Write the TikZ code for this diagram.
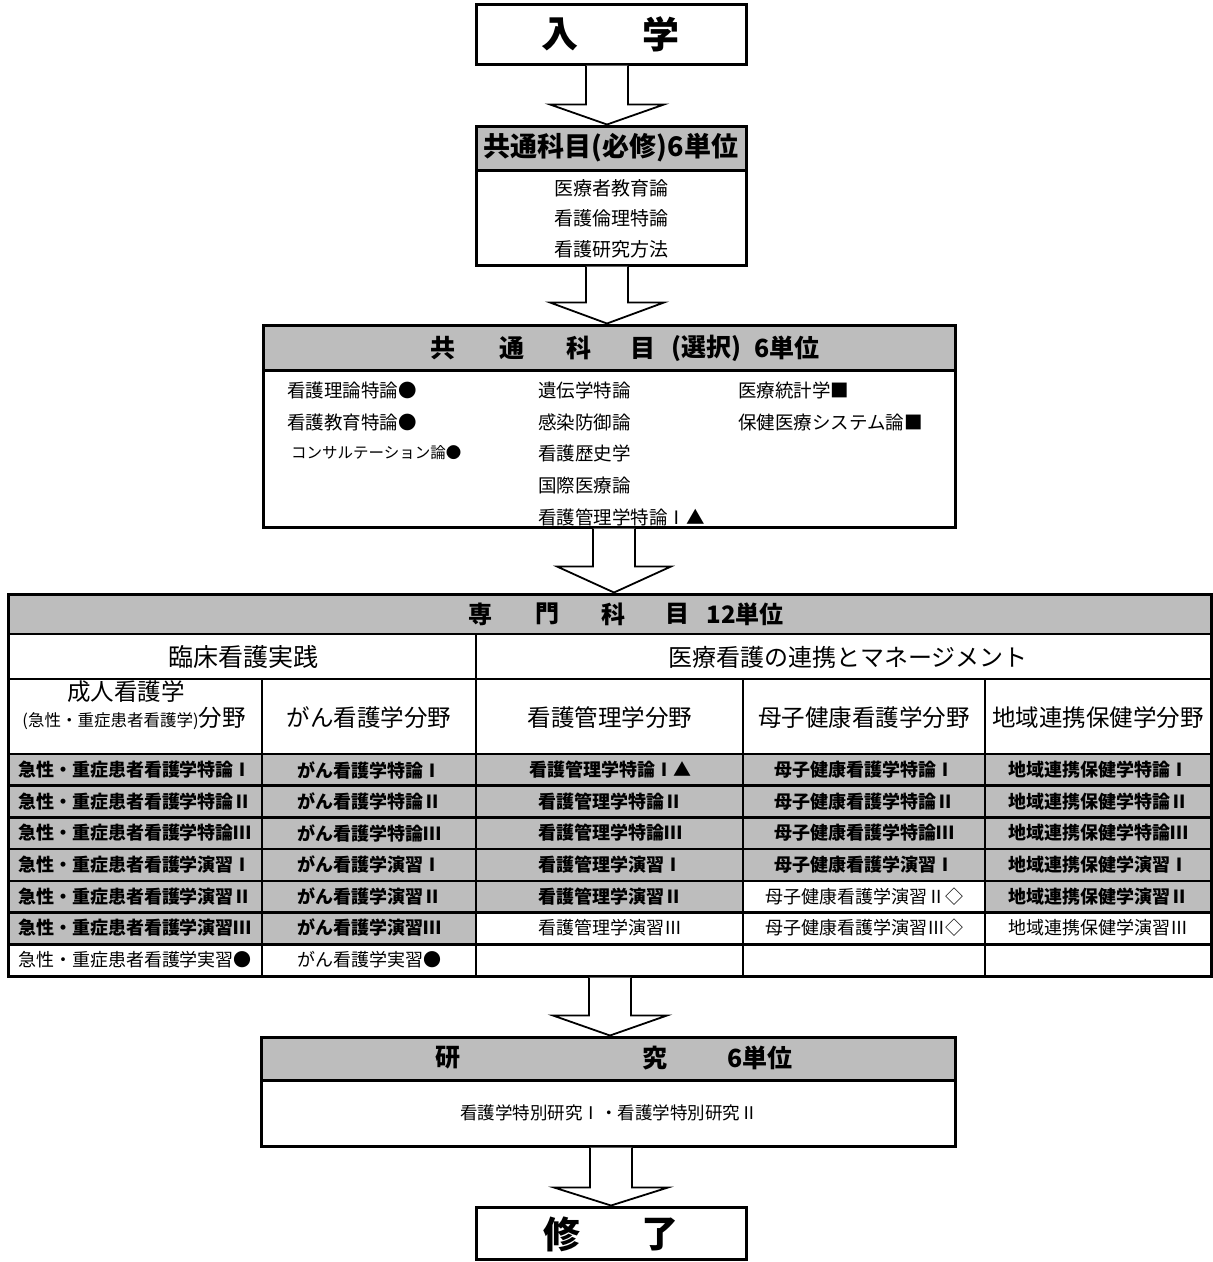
\documentclass[tikz,border=0pt]{standalone}
\usepackage{fontspec}
\setmainfont{Noto Sans CJK JP}
\usetikzlibrary{calc}
\definecolor{shadegray}{gray}{0.74}
\newcommand\fsz[1]{\fontsize{#1}{#1}\selectfont}
\newcommand\rI{\makebox[1em]{Ⅰ}}
\newcommand\rII{\makebox[1em]{Ⅱ}}
\newcommand\rIII{\makebox[1em]{Ⅲ}}
\newcommand\blockarrow[4]{%
  \draw[arrowline] let \p1=(#1.south), \p2=(#2.north) in
   ({#3pt-21pt},\y1) -- ({#3pt-21pt},{\y2+#4pt}) -- ({#3pt-57pt},{\y2+#4pt}) -- ({#3pt},\y2)
   -- ({#3pt+57pt},{\y2+#4pt}) -- ({#3pt+21pt},{\y2+#4pt}) -- ({#3pt+21pt},\y1);}
\begin{document}
\begin{tikzpicture}[x=1pt,y=-1pt,
  frame/.style={draw, line width=3pt, inner sep=0pt},
  sep/.style={line width=3pt},
  gridline/.style={line width=2.6pt},
  arrowline/.style={draw, line width=1.8pt, fill=white, line join=miter},
  bigt/.style={inner sep=0pt, font=\fsz{37}\bfseries},
  headt/.style={inner sep=0pt, font=\fsz{25}\bfseries},
  item/.style={inner sep=0pt, font=\fsz{18.5}},
  coltitle/.style={inner sep=0pt, font=\fsz{23.5}},
  whcell/.style={inner sep=0pt, font=\fsz{18}},
  shcell/.style={inner sep=0pt, font=\fsz{18}\bfseries}]
\useasboundingbox[fill=white] (0,0) rectangle (1213,1262);

% ---------- fills ----------
\fill[shadegray] (476,126) rectangle (746,170);
\fill[shadegray] (263,325) rectangle (955,370);
\fill[shadegray] (8,594) rectangle (1211,634);
\fill[shadegray] (8,754) rectangle (476,944.2);
\fill[shadegray] (476,754) rectangle (743,912.5);
\fill[shadegray] (743,754) rectangle (985,880.8);
\fill[shadegray] (985,754) rectangle (1211,912.5);
\fill[shadegray] (261,1037) rectangle (955,1080);

% ---------- frames ----------
\node[frame, minimum width=270pt, minimum height=60pt] (nyugaku) at (611,34) {};
\node[frame, minimum width=270pt, minimum height=139pt] (hisshu) at (611,195.5) {};
\draw[sep] (476,170) -- (746,170);
\node[frame, minimum width=692pt, minimum height=202pt] (sentaku) at (609,426) {};
\draw[sep] (263,370) -- (955,370);
\node[frame, minimum width=1203pt, minimum height=382pt] (tbl) at (609.5,785) {};
\node[frame, minimum width=694pt, minimum height=109pt] (kenkyu) at (608,1091.5) {};
\draw[sep] (261,1080) -- (955,1080);
\node[frame, minimum width=270pt, minimum height=52pt] (shuryo) at (611,1233) {};

% ---------- table grid ----------
\draw[gridline] (8,634) -- (1211,634);
\draw[gridline] (8,679) -- (1211,679);
\draw[gridline] (8,754) -- (1211,754);
\foreach \k in {1,...,6} {\draw[gridline] (8,{754+31.7*\k}) -- (1211,{754+31.7*\k});}
\draw[gridline] (476,634) -- (476,976);
\draw[gridline] (262,679) -- (262,976);
\draw[gridline] (743,679) -- (743,976);
\draw[gridline] (985,679) -- (985,976);

% ---------- arrows ----------
\blockarrow{nyugaku}{hisshu}{607}{20}
\blockarrow{hisshu}{sentaku}{607}{21}
\blockarrow{sentaku}{tbl}{614}{26}
\blockarrow{tbl}{kenkyu}{610}{20}
\blockarrow{kenkyu}{shuryo}{611}{18}

% ---------- texts ----------
\node[bigt] (t-nyu) at (560,34) {入};
\node[bigt] (t-gaku) at (661,34) {学};

\node[inner sep=0pt, font=\fsz{27}\bfseries] (t-hisshu) at (611,148) {共通科目(必修)6単位};
\node[inner sep=0pt, font=\fsz{19}] (h1) at (611,188) {医療者教育論};
\node[inner sep=0pt, font=\fsz{19}] (h2) at (611,218) {看護倫理特論};
\node[inner sep=0pt, font=\fsz{19}] (h3) at (611,249) {看護研究方法};

\node[headt] (s-a) at (443,348) {共};
\node[headt] (s-b) at (512,348) {通};
\node[headt] (s-c) at (579,348) {科};
\node[headt] (s-d) at (643,348) {目};
\node[headt] (s-e) at (706,348) {(選択)};
\node[headt] (s-f) at (787,348) {6単位};

\node[item, anchor=west] (s11) at (287,390) {看護理論特論●};
\node[item, anchor=west] (s12) at (287,422) {看護教育特論●};
\node[item, anchor=west, font=\fsz{15.5}] (s13) at (291,453) {コンサルテーション論●};
\node[item, anchor=west] (s21) at (538,390) {遺伝学特論};
\node[item, anchor=west] (s22) at (538,422) {感染防御論};
\node[item, anchor=west] (s23) at (538,453) {看護歴史学};
\node[item, anchor=west] (s24) at (538,485) {国際医療論};
\node[item, anchor=west] (s25) at (538,517) {看護管理学特論\rI▲};
\node[item, anchor=west] (s31) at (738,390) {医療統計学■};
\node[item, anchor=west] (s32) at (738,422) {保健医療システム論■};

\node[headt, font=\fsz{24}\bfseries] (m-a) at (480,614) {専};
\node[headt, font=\fsz{24}\bfseries] (m-b) at (547,614) {門};
\node[headt, font=\fsz{24}\bfseries] (m-c) at (613,614) {科};
\node[headt, font=\fsz{24}\bfseries] (m-d) at (677,614) {目};
\node[headt, font=\fsz{24}\bfseries] (m-e) at (745,614) {12単位};

\node[inner sep=0pt, font=\fsz{25}] (g1) at (243,657) {臨床看護実践};
\node[inner sep=0pt, font=\fsz{24}] (g2) at (848,657) {医療看護の連携とマネージメント};

\node[coltitle] (k1a) at (126,692) {成人看護学};
\node[coltitle] (k1b) at (134,718) {{\fsz{16.5}(急性・重症患者看護学)}分野};
\node[coltitle] (k2) at (369,718) {がん看護学分野};
\node[coltitle] (k3) at (610,718) {看護管理学分野};
\node[coltitle] (k4) at (864,718) {母子健康看護学分野};
\node[coltitle] (k5) at (1098,718) {地域連携保健学分野};

% column 1
\node[shcell] (a1) at (135,770) {急性・重症患者看護学特論\rI};
\node[shcell] (a2) at (135,801.5) {急性・重症患者看護学特論\rII};
\node[shcell] (a3) at (135,833) {急性・重症患者看護学特論\rIII};
\node[shcell] (a4) at (135,865) {急性・重症患者看護学演習\rI};
\node[shcell] (a5) at (135,896.5) {急性・重症患者看護学演習\rII};
\node[shcell] (a6) at (135,928) {急性・重症患者看護学演習\rIII};
\node[whcell] (a7) at (135,960) {急性・重症患者看護学実習●};
% column 2
\node[shcell] (b1) at (369,770) {がん看護学特論\rI};
\node[shcell] (b2) at (369,801.5) {がん看護学特論\rII};
\node[shcell] (b3) at (369,833) {がん看護学特論\rIII};
\node[shcell] (b4) at (369,865) {がん看護学演習\rI};
\node[shcell] (b5) at (369,896.5) {がん看護学演習\rII};
\node[shcell] (b6) at (369,928) {がん看護学演習\rIII};
\node[whcell] (b7) at (369,960) {がん看護学実習●};
% column 3
\node[shcell] (c1) at (610,770) {看護管理学特論\rI▲};
\node[shcell] (c2) at (610,801.5) {看護管理学特論\rII};
\node[shcell] (c3) at (610,833) {看護管理学特論\rIII};
\node[shcell] (c4) at (610,865) {看護管理学演習\rI};
\node[shcell] (c5) at (610,896.5) {看護管理学演習\rII};
\node[whcell] (c6) at (610,928) {看護管理学演習\rIII};
% column 4
\node[shcell] (d1) at (864,770) {母子健康看護学特論\rI};
\node[shcell] (d2) at (864,801.5) {母子健康看護学特論\rII};
\node[shcell] (d3) at (864,833) {母子健康看護学特論\rIII};
\node[shcell] (d4) at (864,865) {母子健康看護学演習\rI};
\node[whcell] (d5) at (864,896.5) {母子健康看護学演習\rII◇};
\node[whcell] (d6) at (864,928) {母子健康看護学演習\rIII◇};
% column 5
\node[shcell] (e1) at (1098,770) {地域連携保健学特論\rI};
\node[shcell] (e2) at (1098,801.5) {地域連携保健学特論\rII};
\node[shcell] (e3) at (1098,833) {地域連携保健学特論\rIII};
\node[shcell] (e4) at (1098,865) {地域連携保健学演習\rI};
\node[shcell] (e5) at (1098,896.5) {地域連携保健学演習\rII};
\node[whcell] (e6) at (1098,928) {地域連携保健学演習\rIII};

\node[headt] (r-a) at (448,1058) {研};
\node[headt] (r-b) at (655,1058) {究};
\node[headt] (r-c) at (760,1058) {6単位};
\node[inner sep=0pt, font=\fsz{17.5}] (r-d) at (609,1113) {看護学特別研究\rI・看護学特別研究\rII};

\node[bigt] (t-shu) at (562,1234) {修};
\node[bigt] (t-ryo) at (660,1234) {了};
\end{tikzpicture}
\end{document}
